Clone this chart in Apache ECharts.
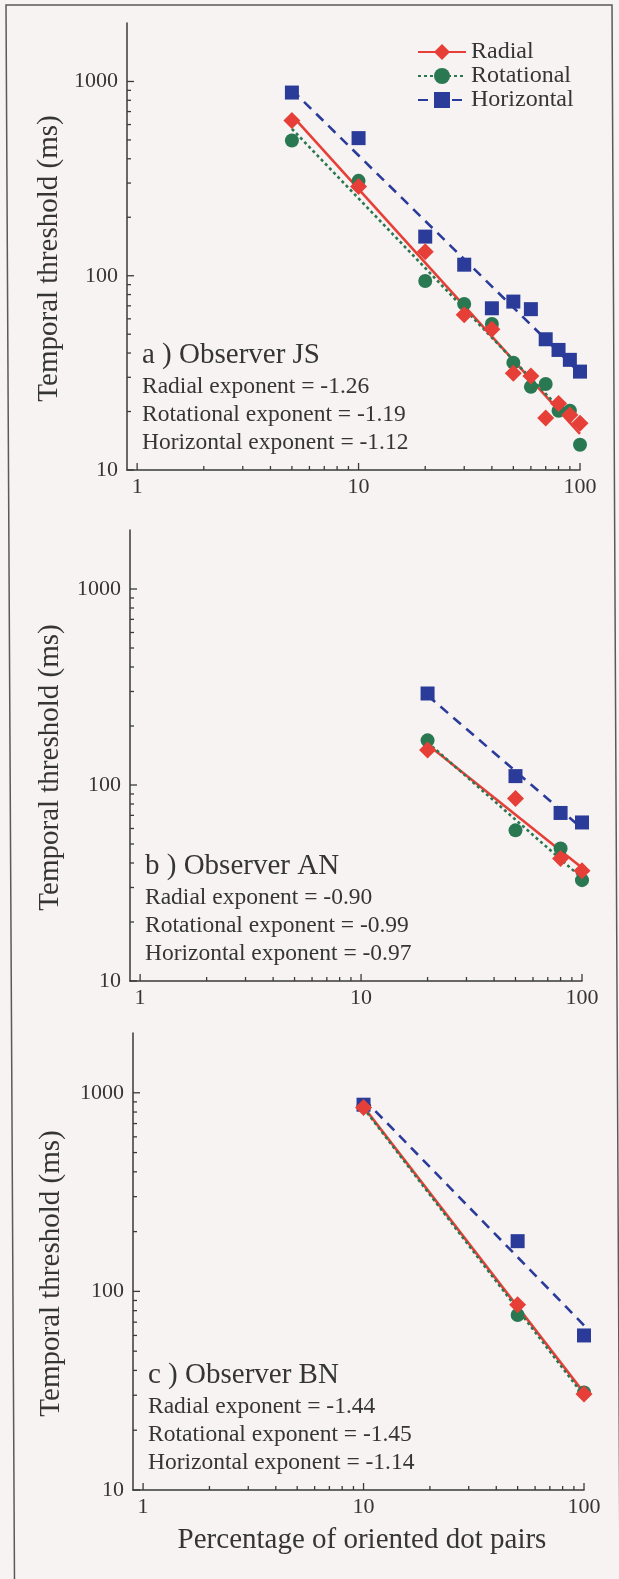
<!DOCTYPE html>
<html>
<head>
<meta charset="utf-8">
<script src="https://cdn.jsdelivr.net/npm/echarts@6/dist/echarts.min.js"></script>
<style>
  html, body { margin: 0; padding: 0; background: #f6f3f2; }
  #chart { width: 619px; height: 1579px; }
</style>
</head>
<body>
<div id="chart"></div>
<script>
// Percentage of oriented dot pairs and temporal thresholds (ms), per observer
const pctJS = [5, 10, 20, 30, 40, 50, 60, 70, 80, 90, 100];
const radialJS = [630, 288, 133, 63, 53, 31.5, 30.5, 18.5, 22, 19.2, 17.4];
const rotationalJS = [497, 308, 94, 71.6, 56.5, 35.7, 26.8, 27.7, 20.2, 20.2, 13.5];
const horizontalJS = [877, 511, 159, 114, 68, 73.6, 67.3, 47.1, 41.5, 36.9, 32.1];

const pctAN = [20, 50, 80, 100];
const radialAN = [151, 85.3, 42.2, 36.5];
const rotationalAN = [169, 58.7, 47.4, 32.7];
const horizontalAN = [293, 111, 72, 64.4];

const pctBN = [10, 50, 100];
const radialBN = [843, 85.6, 30.4];
const rotationalBN = [860, 76, 31];
const horizontalBN = [871, 179, 60];

// Fitted power-law exponents: radial, rotational, horizontal
const exponentsJS = [-1.26, -1.19, -1.12];
const exponentsAN = [-0.90, -0.99, -0.97];
const exponentsBN = [-1.44, -1.45, -1.14];

const panelLabels = ['a ) Observer JS', 'b ) Observer AN', 'c ) Observer BN'];
const seriesNames = ['Radial', 'Rotational', 'Horizontal'];

// Axis tick positions (log scale, major at powers of ten)
const xTickValues = [1, 2, 3, 4, 5, 6, 7, 8, 9, 10, 20, 30, 40, 50, 60, 70, 80, 90, 100];
const yTickValues = [10, 20, 30, 40, 50, 60, 70, 80, 90, 100, 200, 300, 400, 500, 600, 700, 800, 900, 1000];

const X_MIN = 0.9, X_MAX = 100, Y_MIN = 10, Y_MAX = 2000;

const panels = [
  { x: pctJS, ys: [radialJS, rotationalJS, horizontalJS], exps: exponentsJS },
  { x: pctAN, ys: [radialAN, rotationalAN, horizontalAN], exps: exponentsAN },
  { x: pctBN, ys: [radialBN, rotationalBN, horizontalBN], exps: exponentsBN }
];

const FONT = 'Liberation Serif, Times New Roman, serif';
const INK = '#353535';
const AXIS = '#3a3a3a';
const colors = ['#e63f37', '#2a7852', '#2a3b9a'];
const symbols = ['diamond', 'circle', 'rect'];
const symbolSizes = [17, 14, 14];
const lineTypes = ['solid', [3, 3], [10, 7]];

const grids = [
  { left: 127, top: 23, width: 453, height: 447 },
  { left: 130, top: 530, width: 452, height: 451 },
  { left: 133, top: 1033, width: 451, height: 457 }
];

function isDecade(v) {
  const l = Math.log10(v);
  return Math.abs(l - Math.round(l)) < 1e-6;
}

// Least-squares power-law line with the stated exponent, spanning the tested range
function fitLine(xs, ys, k) {
  const lx = xs.map(v => Math.log10(v));
  const ly = ys.map(v => Math.log10(v));
  const mx = lx.reduce((a, b) => a + b, 0) / lx.length;
  const my = ly.reduce((a, b) => a + b, 0) / ly.length;
  const b = my - k * mx;
  const x0 = Math.min(...xs), x1 = Math.max(...xs);
  return [
    [x0, Math.pow(10, b + k * Math.log10(x0))],
    [x1, Math.pow(10, b + k * Math.log10(x1))]
  ];
}

function tickSeries(gi) {
  const data = [];
  xTickValues.forEach(v => data.push([v, Y_MIN, 0]));
  yTickValues.forEach(v => data.push([X_MIN, v, 1]));
  return {
    type: 'custom',
    xAxisIndex: gi,
    yAxisIndex: gi,
    silent: true,
    clip: false,
    z: 6,
    data: data,
    renderItem: function (params, api) {
      const v0 = api.value(0), v1 = api.value(1), dir = api.value(2);
      const p = api.coord([v0, v1]);
      const major = isDecade(dir === 0 ? v0 : v1);
      const len = major ? 7 : 4;
      const shape = dir === 0
        ? { x1: p[0], y1: p[1], x2: p[0], y2: p[1] - len }
        : { x1: p[0], y1: p[1], x2: p[0] + len, y2: p[1] };
      return { type: 'line', shape: shape, style: { stroke: AXIS, lineWidth: 1.3 } };
    }
  };
}

const xAxes = [], yAxes = [], series = [], graphics = [];

// Fit lines first so the legend takes its icons from them
panels.forEach((pnl, gi) => {
  seriesNames.forEach((name, si) => {
    series.push({
      name: name,
      type: 'line',
      xAxisIndex: gi,
      yAxisIndex: gi,
      data: fitLine(pnl.x, pnl.ys[si], pnl.exps[si]),
      showSymbol: false,
      symbol: symbols[si],
      symbolSize: symbolSizes[si],
      color: colors[si],
      itemStyle: { color: colors[si], opacity: 1 },
      lineStyle: { color: colors[si], width: 2.6, type: lineTypes[si] },
      silent: true,
      z: 2
    });
  });
});

panels.forEach((pnl, gi) => {
  const g = grids[gi];
  xAxes.push({
    type: 'log', logBase: 10, gridIndex: gi, min: X_MIN, max: X_MAX,
    axisLine: { lineStyle: { color: AXIS, width: 1.5 } },
    axisTick: { show: false },
    splitLine: { show: false },
    axisLabel: {
      margin: 6, fontFamily: FONT, fontSize: 22, color: INK,
      formatter: v => (isDecade(v) ? String(Math.round(v)) : '')
    }
  });
  yAxes.push({
    type: 'log', logBase: 10, gridIndex: gi, min: Y_MIN, max: Y_MAX,
    axisLine: { lineStyle: { color: AXIS, width: 1.5 } },
    axisTick: { show: false },
    splitLine: { show: false },
    axisLabel: {
      margin: 9, fontFamily: FONT, fontSize: 22, color: INK,
      formatter: v => (isDecade(v) ? String(Math.round(v)) : '')
    }
  });

  seriesNames.forEach((name, si) => {
    series.push({
      name: name,
      type: 'scatter',
      xAxisIndex: gi,
      yAxisIndex: gi,
      data: pnl.x.map((xv, i) => [xv, pnl.ys[si][i]]),
      symbol: symbols[si],
      symbolSize: symbolSizes[si],
      itemStyle: { color: colors[si], opacity: 1 },
      z: 3 + (si === 0 ? 0.2 : 0)
    });
  });
  series.push(tickSeries(gi));

  // Panel caption and exponent lines
  const bottom = g.top + g.height;
  const tx = g.left + 15;
  graphics.push({
    type: 'text', x: tx, y: bottom - 115,
    style: { text: panelLabels[gi], font: '29px ' + FONT, fill: INK, verticalAlign: 'middle', textVerticalAlign: 'middle' }
  });
  [-83, -55, -27].forEach((dy, si) => {
    graphics.push({
      type: 'text', x: tx, y: bottom + dy,
      style: {
        text: seriesNames[si] + ' exponent = ' + pnl.exps[si].toFixed(2),
        font: '23.5px ' + FONT, fill: INK, verticalAlign: 'middle', textVerticalAlign: 'middle'
      }
    });
  });

  // Y axis title
  graphics.push({
    type: 'text', x: 49 + gi, y: g.top + g.height / 2 + 12, rotation: Math.PI / 2,
    style: {
      text: 'Temporal threshold (ms)', font: '29px ' + FONT, fill: INK,
      align: 'center', textAlign: 'center', verticalAlign: 'middle', textVerticalAlign: 'middle'
    }
  });
});

// X axis title under the last panel
graphics.push({
  type: 'text', x: 362, y: 1540,
  style: {
    text: 'Percentage of oriented dot pairs', font: '29px ' + FONT, fill: INK,
    align: 'center', textAlign: 'center', verticalAlign: 'middle', textVerticalAlign: 'middle'
  }
});

// Figure frame
graphics.push({
  type: 'polyline', silent: true,
  shape: { points: [[14.5, 1579], [6, 5], [612, 5], [620, 1579]] },
  style: { stroke: '#5a5a5a', lineWidth: 1.5, fill: null }
});

const chart = echarts.init(document.getElementById('chart'), null, { renderer: 'canvas' });
chart.setOption({
  backgroundColor: '#f6f3f2',
  animation: false,
  textStyle: { fontFamily: FONT },
  grid: grids,
  xAxis: xAxes,
  yAxis: yAxes,
  legend: {
    data: seriesNames,
    orient: 'vertical',
    left: 412,
    top: 35,
    itemWidth: 48,
    itemHeight: 20,
    itemGap: 0,
    textStyle: { fontFamily: FONT, fontSize: 24, color: INK, lineHeight: 23 },
    selectedMode: false
  },
  series: series,
  graphic: graphics
});
</script>
</body>
</html>
